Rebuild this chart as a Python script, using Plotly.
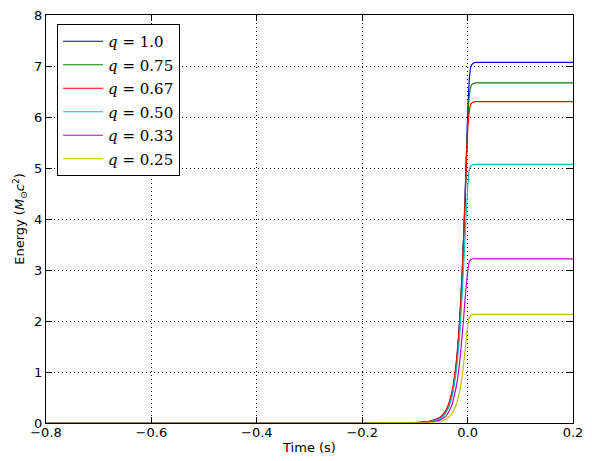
import plotly.graph_objects as go

t = [-0.8, -0.2, -0.1, -0.07, -0.05, -0.04, -0.03, -0.025, -0.02, -0.015,
     -0.01, -0.005, 0.0, 0.003, 0.006, 0.01, 0.015, 0.025, 0.2]

e_q100 = [0, 0.0, 0.01, 0.04, 0.12, 0.25, 0.55, 0.85, 1.3, 2.0, 3.0, 4.4, 6.0, 6.7, 6.98, 7.05, 7.07, 7.07, 7.07]
e_q075 = [0, 0.0, 0.01, 0.04, 0.12, 0.25, 0.55, 0.85, 1.3, 2.0, 3.0, 4.3, 5.9, 6.4, 6.6, 6.65, 6.67, 6.67, 6.67]
e_q067 = [0, 0.0, 0.01, 0.04, 0.13, 0.27, 0.6, 0.9, 1.35, 2.0, 3.0, 4.3, 5.7, 6.1, 6.25, 6.29, 6.30, 6.30, 6.30]
e_q050 = [0, 0.0, 0.01, 0.03, 0.1, 0.22, 0.5, 0.78, 1.15, 1.75, 2.6, 3.6, 4.6, 4.95, 5.04, 5.06, 5.07, 5.07, 5.07]
e_q033 = [0, 0.0, 0.005, 0.02, 0.07, 0.15, 0.35, 0.55, 0.8, 1.2, 1.75, 2.4, 2.95, 3.15, 3.2, 3.22, 3.22, 3.22, 3.22]
e_q025 = [0, 0.0, 0.003, 0.01, 0.04, 0.08, 0.18, 0.28, 0.42, 0.63, 0.95, 1.4, 1.9, 2.06, 2.11, 2.13, 2.13, 2.13, 2.13]

labels = ["1.0", "0.75", "0.67", "0.50", "0.33", "0.25"]
series = [e_q100, e_q075, e_q067, e_q050, e_q033, e_q025]
colors = ["#0000ff", "#008000", "#ff0000", "#00bfbf", "#bf00bf", "#bfbf00"]

x_ticks = [-0.8, -0.6, -0.4, -0.2, 0.0, 0.2]
y_ticks = [0, 1, 2, 3, 4, 5, 6, 7, 8]

fig = go.Figure()
for i, (lab, ys, c) in enumerate(zip(labels, series, colors)):
    fig.add_trace(go.Scatter(
        x=t, y=ys, mode="lines", line=dict(color=c, width=1.2, shape="spline", smoothing=0.6),
        name=f"<i>q</i> = {lab}", legendgroup=str(i),
    ))

axis_common = dict(
    showline=True, linecolor="black", linewidth=1, mirror="allticks",
    ticks="inside", ticklen=6, tickcolor="black",
    showgrid=True, gridcolor="black", griddash="1px,3px", gridwidth=1,
    zeroline=False, automargin=False,
    tickfont=dict(family="DejaVu Sans", size=13, color="black"),
)

fig.update_xaxes(range=[-0.8, 0.2], tickvals=x_ticks, tickformat=".1f", ticklabelstandoff=-3,
                 title=dict(text="Time (s)", font=dict(family="DejaVu Sans", size=13, color="black"), standoff=4),
                 **axis_common)
fig.update_yaxes(range=[0, 8], tickvals=y_ticks, tickformat="d",
                 title=dict(text="Energy (<i>M</i><sub>⊙</sub><i>c</i><sup>2</sup>)",
                            font=dict(family="DejaVu Sans", size=13, color="black"), standoff=6),
                 **axis_common)

fig.update_layout(
    width=592, height=461,
    margin=dict(l=46, r=19, t=15, b=38),
    paper_bgcolor="white", plot_bgcolor="white",
    showlegend=True,
    legend=dict(x=0.021, y=0.978, xanchor="left", yanchor="top",
                bgcolor="white", bordercolor="black", borderwidth=1,
                font=dict(family="DejaVu Serif", size=15, color="black"),
                tracegroupgap=1, itemwidth=40),
)

fig.write_html("out.html")
